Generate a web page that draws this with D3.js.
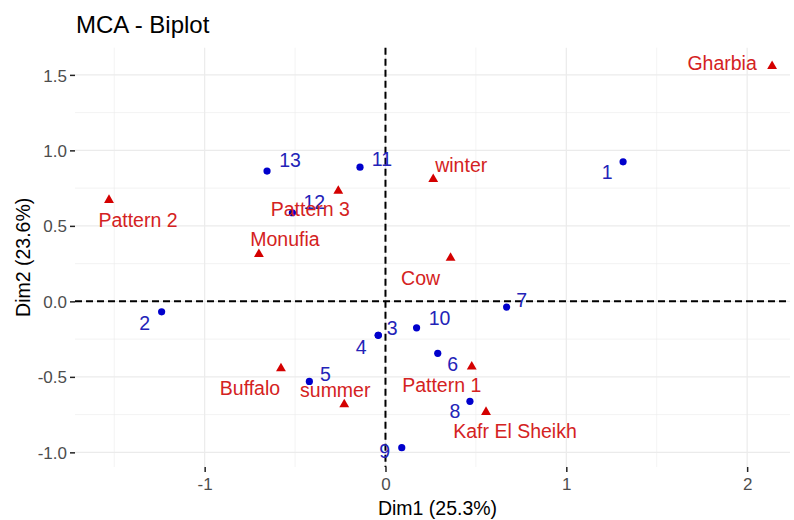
<!doctype html>
<html>
<head>
  <meta charset="utf-8">
  <style>
    body { margin: 0; background: #fff; }
    svg text { font-family: "Liberation Sans", Arial, sans-serif; }
    .grid line { stroke: #ebebeb; }
    .lbl { dominant-baseline: central; text-anchor: middle; font-size: 19.5px; }
  </style>
</head>
<body>
<svg width="794" height="520"></svg>
<script src="https://d3js.org/d3.v7.min.js"></script>
<script>
  // individuals (rows)
  var indNames = ["1", "2", "3", "4", "5", "6", "7", "8", "9", "10", "11", "12", "13"];
  var indDim1 = [1.314, -1.238, -0.04, -0.04, -0.421, 0.289, 0.670, 0.467, 0.09, 0.172, -0.141, -0.515, -0.655];
  var indDim2 = [0.924, -0.069, -0.225, -0.225, -0.53, -0.344, -0.038, -0.662, -0.969, -0.175, 0.889, 0.587, 0.863];
  // label nudges in px (repel layout)
  var indLabelDx = [-16, -17, 14, -17, 16, 15, 15, -15, -17, 23, 22, 22, 23];
  var indLabelDy = [10, 11, -7, 12, -7, 11, -7, 10, 3, -10, -8, -11, -11];

  // variable categories
  var varNames = ["Gharbia", "winter", "Cow", "Pattern 2", "Pattern 3", "Monufia", "Buffalo", "summer", "Pattern 1", "Kafr El Sheikh"];
  var varDim1 = [2.138, 0.264, 0.36, -1.529, -0.261, -0.70, -0.578, -0.228, 0.477, 0.556];
  var varDim2 = [1.558, 0.81, 0.287, 0.671, 0.732, 0.313, -0.444, -0.682, -0.433, -0.733];
  var varLabelDx = [-50, 28, -30, 29, -28, 26, -31, -9, -30, 29];
  var varLabelDy = [-3, -14, 20, 20, 18, -15, 20, -14, 18, 19];

  var xTicks = [-1, 0, 1, 2];
  var yTicks = [-1, -0.5, 0, 0.5, 1, 1.5];
  var xMinor = [-1.5, -0.5, 0.5, 1.5];
  var yMinor = [-0.75, -0.25, 0.25, 0.75, 1.25];

  var svg = d3.select("svg");
  var pLeft = 75, pRight = 790, pTop = 47.7, pBottom = 467;

  var x = d3.scaleLinear().domain([-1.717, 2.237]).range([pLeft, pRight]);
  var y = d3.scaleLinear().domain([-1.097, 1.68]).range([pBottom, pTop]);

  var grid = svg.append("g").attr("class", "grid");
  grid.selectAll(".vmin").data(xMinor).enter().append("line")
    .attr("x1", x).attr("x2", x).attr("y1", pTop).attr("y2", pBottom).attr("stroke-width", 0.6);
  grid.selectAll(".hmin").data(yMinor).enter().append("line")
    .attr("y1", y).attr("y2", y).attr("x1", pLeft).attr("x2", pRight).attr("stroke-width", 0.6);
  grid.selectAll(".vmaj").data(xTicks).enter().append("line")
    .attr("x1", x).attr("x2", x).attr("y1", pTop).attr("y2", pBottom).attr("stroke-width", 1.2);
  grid.selectAll(".hmaj").data(yTicks).enter().append("line")
    .attr("y1", y).attr("y2", y).attr("x1", pLeft).attr("x2", pRight).attr("stroke-width", 1.2);

  // axes (hyphen minus like R)
  var fx = function (d) { return String(d); };
  var fy = function (d) { return d3.format(".1f")(d).replace("\u2212", "-"); };
  var xAxis = svg.append("g").attr("transform", "translate(0," + pBottom + ")")
    .call(d3.axisBottom(x).tickValues(xTicks).tickSize(5).tickPadding(6).tickFormat(fx));
  var yAxis = svg.append("g").attr("transform", "translate(" + pLeft + ",0)")
    .call(d3.axisLeft(y).tickValues(yTicks).tickSize(5).tickPadding(3).tickFormat(fy));
  [xAxis, yAxis].forEach(function (a) {
    a.select(".domain").remove();
    a.selectAll(".tick line").attr("stroke", "#222").attr("stroke-width", 1.5);
    a.selectAll(".tick text").attr("fill", "#4d4d4d").style("font-size", "17px")
      .style("font-family", "'Liberation Sans', Arial, sans-serif");
  });
  yAxis.selectAll(".tick text").attr("dy", "0.36em");

  // reference lines
  svg.append("line").attr("x1", pLeft).attr("x2", pRight).attr("y1", y(0)).attr("y2", y(0))
    .attr("stroke", "#000").attr("stroke-width", 2).attr("stroke-dasharray", "7,4");
  svg.append("line").attr("x1", x(0)).attr("x2", x(0)).attr("y1", pTop).attr("y2", pBottom)
    .attr("stroke", "#000").attr("stroke-width", 2).attr("stroke-dasharray", "7,4");

  // individuals
  var ind = indNames.map(function (n, i) {
    return { name: n, d1: indDim1[i], d2: indDim2[i], dx: indLabelDx[i], dy: indLabelDy[i] };
  });
  svg.append("g").selectAll("circle").data(ind).enter().append("circle")
    .attr("cx", function (d) { return x(d.d1); })
    .attr("cy", function (d) { return y(d.d2); })
    .attr("r", 3.6).attr("fill", "#0000cc");
  svg.append("g").selectAll("text").data(ind).enter().append("text")
    .attr("class", "lbl").attr("fill", "#2323b8")
    .attr("x", function (d) { return x(d.d1) + d.dx; })
    .attr("y", function (d) { return y(d.d2) + d.dy; })
    .text(function (d) { return d.name; });

  // variables
  var vars = varNames.map(function (n, i) {
    return { name: n, d1: varDim1[i], d2: varDim2[i], dx: varLabelDx[i], dy: varLabelDy[i] };
  });
  var tri = d3.symbol().type(d3.symbolTriangle).size(42);
  svg.append("g").selectAll("path").data(vars).enter().append("path")
    .attr("d", tri)
    .attr("transform", function (d) { return "translate(" + x(d.d1) + "," + y(d.d2) + ")"; })
    .attr("fill", "#d40000");
  svg.append("g").selectAll("text").data(vars).enter().append("text")
    .attr("class", "lbl").attr("fill", "#d42222")
    .attr("x", function (d) { return x(d.d1) + d.dx; })
    .attr("y", function (d) { return y(d.d2) + d.dy; })
    .text(function (d) { return d.name; });

  // titles
  svg.append("text").attr("x", 76).attr("y", 33).style("font-size", "24px").attr("fill", "#000")
    .text("MCA - Biplot");
  svg.append("text").attr("x", (pLeft + pRight) / 2 + 5).attr("y", 515).attr("text-anchor", "middle")
    .style("font-size", "19.5px").attr("fill", "#000").text("Dim1 (25.3%)");
  svg.append("text").attr("transform", "translate(30," + ((pTop + pBottom) / 2) + ") rotate(-90)")
    .attr("text-anchor", "middle").style("font-size", "19.5px").attr("fill", "#000").text("Dim2 (23.6%)");
</script>
</body>
</html>
